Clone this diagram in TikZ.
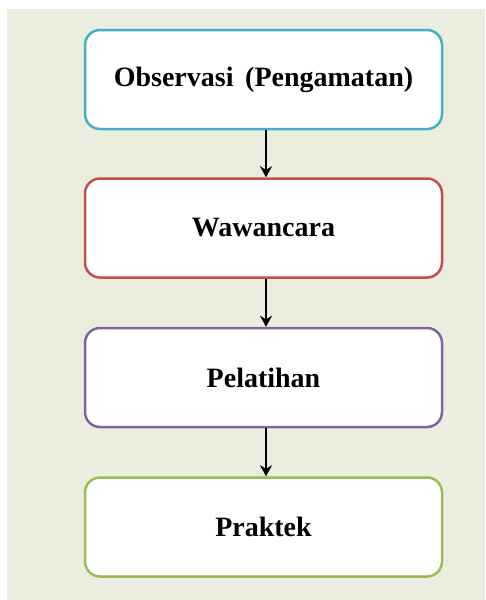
\documentclass[tikz,border=0pt]{standalone}
\usepackage{fontspec}
\setmainfont{Liberation Serif}
\usepackage{xcolor}
\usepackage{tikz}
\usetikzlibrary{positioning}
\usetikzlibrary{arrows.meta}

\definecolor{bgcol}{RGB}{235,238,222}
\definecolor{aqua}{RGB}{75,172,198}
\definecolor{redline}{RGB}{192,80,77}
\definecolor{purpleline}{RGB}{128,100,162}
\definecolor{greenline}{RGB}{155,187,89}

\begin{document}
\begin{tikzpicture}
    \tikzset{Tahap/.style={rectangle, rounded corners=15pt, draw, line width=2.5pt, fill=white, text centered, minimum width=357pt, minimum height=99pt, font=\fontsize{28}{32}\selectfont\bfseries}};
    \tikzset{Panah/.style={-{Stealth[length=11pt,width=12pt]}, line width=2.6pt, black}};
    \useasboundingbox (0,0) rectangle (485pt,-600pt);
    \fill[bgcol] (7pt,-9pt) rectangle (485pt,-600pt);
    \node[Tahap, draw=aqua] at (263.5pt,-79.5pt) (a) {Observasi\, (Pengamatan)};
    \node[Tahap, draw=redline][below=47pt of a] (b) {Wawancara};
    \node[Tahap, draw=purpleline][below=48pt of b] (c) {Pelatihan};
    \node[Tahap, draw=greenline][below=48pt of c] (d) {Praktek};
    \draw[Panah] ([xshift=2.5pt]a.south) -- ([xshift=2.5pt]b.north);
    \draw[Panah] ([xshift=2.5pt]b.south) -- ([xshift=2.5pt]c.north);
    \draw[Panah] ([xshift=2.5pt]c.south) -- ([xshift=2.5pt]d.north);
  \end{tikzpicture}
\end{document}
